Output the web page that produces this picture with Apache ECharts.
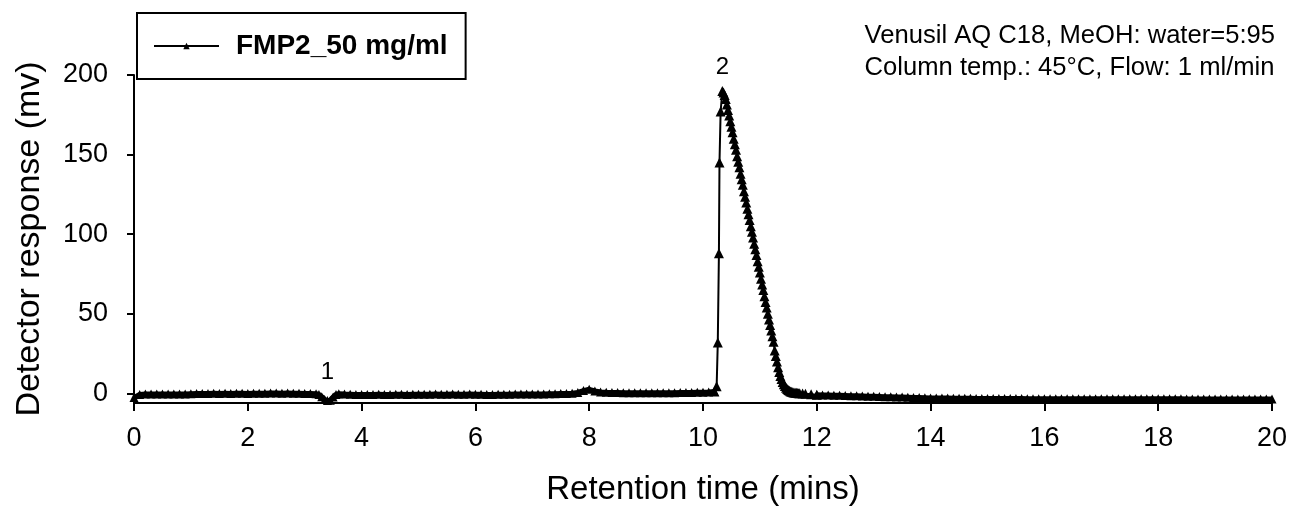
<!DOCTYPE html>
<html>
<head>
<meta charset="utf-8">
<script src="https://cdn.jsdelivr.net/npm/echarts@6/dist/echarts.min.js"></script>
<style>
html,body{margin:0;padding:0;background:#fff;}
#chart{width:1290px;height:513px;}
</style>
</head>
<body>
<div id="chart"></div>
<script>
// ---- data (time in mins, response in mV) ----
const seriesName = 'FMP2_50 mg/ml';
const xTicks = [0, 2, 4, 6, 8, 10, 12, 14, 16, 18, 20];
const yTicks = [0, 50, 100, 150, 200];

const baselineEarly = [
  [0.0,-2.5],[0.1,-0.6],[0.2,-0.4],[0.3,-0.3],[0.4,-0.3],[0.5,-0.4],[0.6,-0.3],[0.7,-0.3],[0.8,-0.4],[0.9,-0.3],
  [1.0,-0.2],[1.1,-0.1],[1.2,0.0],[1.3,0.0],[1.4,0.1],[1.5,0.0],[1.6,0.1],[1.7,0.0],[1.8,0.1],[1.9,0.1],
  [2.0,0.0],[2.1,0.1],[2.2,0.2],[2.3,0.2],[2.4,0.3],[2.5,0.3],[2.6,0.2],[2.7,0.3],[2.8,0.2],[2.9,0.1],
  [3.0,0.0],[3.1,-0.1],[3.2,-0.2]
];
const peak1 = [
  [3.25,-0.6],[3.3,-2.0],[3.35,-3.8],[3.4,-4.5],[3.45,-4.2],[3.5,-2.2],[3.55,-0.6],[3.6,-0.2]
];
const baselineMid = [
  [3.7,-0.4],[3.8,-0.5],[3.9,-0.6],[4.0,-0.6],[4.1,-0.6],[4.2,-0.6],[4.3,-0.5],[4.4,-0.6],[4.5,-0.6],[4.6,-0.5],
  [4.7,-0.5],[4.8,-0.6],[4.9,-0.5],[5.0,-0.5],[5.1,-0.5],[5.2,-0.5],[5.3,-0.4],[5.4,-0.5],[5.5,-0.5],[5.6,-0.4],
  [5.7,-0.5],[5.8,-0.5],[5.9,-0.4],[6.0,-0.5],[6.1,-0.5],[6.2,-0.6],[6.3,-0.6],[6.4,-0.5],[6.5,-0.5],[6.6,-0.5],
  [6.7,-0.4],[6.8,-0.4],[6.9,-0.4],[7.0,-0.3],[7.1,-0.3],[7.2,-0.3],[7.3,-0.2],[7.4,-0.2],[7.5,-0.1],[7.6,0.0],
  [7.7,0.2],[7.8,0.6],[7.9,1.8],[8.0,2.6],[8.1,1.6],[8.2,0.9],[8.3,0.7],[8.4,0.6],[8.5,0.6],[8.6,0.5],
  [8.7,0.5],[8.8,0.4],[8.9,0.4],[9.0,0.4],[9.1,0.4],[9.2,0.5],[9.3,0.5],[9.4,0.5],[9.5,0.5],[9.6,0.6],
  [9.7,0.6],[9.8,0.6],[9.9,0.7],[10.0,0.8],[10.1,0.9],[10.2,1.2]
];
const peak2 = [
  [10.24,4.5],[10.26,32],[10.28,88],[10.29,145],[10.31,177],[10.34,190],
  [10.36,189],[10.38,187.5],[10.40,185],[10.42,181.5],[10.44,178],[10.46,174.5],[10.48,171],[10.50,167.5],
  [10.52,164],[10.54,160],[10.56,156.5],[10.58,153],[10.60,149],[10.62,145.5],[10.64,142],[10.66,138],
  [10.68,134.5],[10.70,131],[10.72,127],[10.74,123.5],[10.76,120],[10.78,116],[10.80,112.5],[10.82,109],
  [10.84,105],[10.86,101.5],[10.88,98],[10.90,94],[10.92,90.5],[10.94,87],[10.96,83],[10.98,79.5],
  [11.00,76],[11.02,72],[11.04,68.5],[11.06,65],[11.08,61],[11.10,57.5],[11.12,54],[11.14,50],
  [11.16,46.5],[11.18,43],[11.20,39.5],[11.22,36],[11.24,32.5],[11.26,27],[11.28,23.5],[11.30,20],
  [11.32,16.5],[11.34,13.5],[11.36,11],[11.38,9],[11.40,7.2],[11.42,5.8],[11.44,4.6],[11.46,3.6],
  [11.48,2.8],[11.50,2.2],[11.52,1.7],[11.54,1.3],[11.56,1.0],[11.58,0.8],[11.60,0.6],[11.62,0.5],
  [11.64,0.4],[11.66,0.3],[11.68,0.2],[11.70,0.1],[11.75,0.0],[11.80,-0.2],[11.90,-0.5]
];
const baselineLate = [
  [12.0,-0.8],[12.1,-0.9],[12.2,-1.0],[12.3,-1.1],[12.4,-1.2],[12.5,-1.3],[12.6,-1.4],[12.7,-1.5],[12.8,-1.6],[12.9,-1.7],
  [13.0,-1.8],[13.1,-1.9],[13.2,-2.0],[13.3,-2.1],[13.4,-2.2],[13.5,-2.3],[13.6,-2.4],[13.7,-2.5],[13.8,-2.6],[13.9,-2.7],
  [14.0,-2.8],[14.1,-2.8],[14.2,-2.9],[14.3,-2.9],[14.4,-3.0],[14.5,-3.0],[14.6,-3.0],[14.7,-3.0],[14.8,-3.1],[14.9,-3.1],
  [15.0,-3.1],[15.1,-3.1],[15.2,-3.2],[15.3,-3.2],[15.4,-3.2],[15.5,-3.2],[15.6,-3.2],[15.7,-3.3],[15.8,-3.3],[15.9,-3.3],
  [16.0,-3.3],[16.1,-3.3],[16.2,-3.3],[16.3,-3.3],[16.4,-3.3],[16.5,-3.3],[16.6,-3.3],[16.7,-3.3],[16.8,-3.3],[16.9,-3.4],
  [17.0,-3.4],[17.1,-3.4],[17.2,-3.4],[17.3,-3.4],[17.4,-3.4],[17.5,-3.4],[17.6,-3.4],[17.7,-3.4],[17.8,-3.4],[17.9,-3.4],
  [18.0,-3.4],[18.1,-3.4],[18.2,-3.4],[18.3,-3.4],[18.4,-3.4],[18.5,-3.5],[18.6,-3.5],[18.7,-3.5],[18.8,-3.5],[18.9,-3.5],
  [19.0,-3.5],[19.1,-3.5],[19.2,-3.5],[19.3,-3.5],[19.4,-3.5],[19.5,-3.5],[19.6,-3.5],[19.7,-3.5],[19.8,-3.5],[19.9,-3.5],
  [20.0,-3.5]
];
const peakLabels = [
  { text: '1', at: [3.4, 13.5] },
  { text: '2', at: [10.34, 205] }
];
const noteLines = ['Venusil AQ C18, MeOH: water=5:95', 'Column temp.: 45°C, Flow: 1 ml/min'];

// ---- chart ----
const FONT = '"Liberation Sans", Arial, sans-serif';
// one trace drawn in three contiguous pieces (shared end points), one legend entry
const pieceBefore = [].concat(baselineEarly, peak1, baselineMid);
const piecePeak = [pieceBefore[pieceBefore.length - 1]].concat(peak2, [baselineLate[0]]);
const pieceAfter = baselineLate;

function trace(data, lineWidth, symbolSize) {
  return {
    name: seriesName,
    type: 'line',
    data: data,
    symbol: 'triangle',
    symbolSize: symbolSize,
    showAllSymbol: true,
    sampling: null,
    clip: false,
    lineStyle: { color: '#000', width: lineWidth },
    itemStyle: { color: '#000', borderWidth: 0 },
    emphasis: { disabled: true }
  };
}

const chart = echarts.init(document.getElementById('chart'), null, { renderer: 'canvas' });

const option = {
  animation: false,
  backgroundColor: '#fff',
  grid: { left: 134, right: 18, top: 75, bottom: 110, containLabel: false },
  legend: {
    left: 137, top: 13,
    padding: [19, 18, 19, 16],
    borderColor: '#000', borderWidth: 2, borderRadius: 0,
    itemWidth: 65, itemHeight: 8, itemGap: 0,
    lineStyle: { width: 2, color: '#000' },
    itemStyle: { color: '#000' },
    textStyle: { fontFamily: FONT, fontSize: 28, fontWeight: 'bold', color: '#000', padding: [0, 0, 0, 12] },
    data: [seriesName]
  },
  xAxis: {
    type: 'value', min: 0, max: 20, interval: 2,
    name: 'Retention time (mins)', nameLocation: 'middle', nameGap: 70,
    nameTextStyle: { fontFamily: FONT, fontSize: 33, color: '#000' },
    axisLine: { show: true, onZero: false, lineStyle: { color: '#000', width: 2 } },
    axisTick: { show: true, inside: false, length: 8, lineStyle: { color: '#000', width: 2 } },
    axisLabel: { fontFamily: FONT, fontSize: 27, color: '#000', margin: 22 },
    splitLine: { show: false }
  },
  yAxis: {
    type: 'value', min: -6, max: 200,
    name: 'Detector response (mv)', nameLocation: 'middle', nameGap: 87,
    nameTextStyle: { fontFamily: FONT, fontSize: 34, color: '#000' },
    axisLine: { show: true, onZero: false, lineStyle: { color: '#000', width: 2 } },
    axisTick: { show: true, inside: false, length: 7, customValues: yTicks, lineStyle: { color: '#000', width: 2 } },
    axisLabel: { fontFamily: FONT, fontSize: 27, color: '#000', margin: 26, customValues: yTicks },
    splitLine: { show: false }
  },
  series: [
    trace(pieceBefore, 5, 9),
    trace(piecePeak, 2, 10),
    trace(pieceAfter, 5, 9)
  ]
};
chart.setOption(option);

// peak number labels and method note, placed through the axes
const graphics = peakLabels.map(p => {
  const px = chart.convertToPixel({ gridIndex: 0 }, p.at);
  return {
    type: 'text', x: px[0], y: px[1],
    style: { text: p.text, fontFamily: FONT, fontSize: 24, fill: '#000', align: 'center', verticalAlign: 'middle' }
  };
});
graphics.push({
  type: 'text', right: 15, top: 20,
  style: { text: noteLines.join('\n'), fontFamily: FONT, fontSize: 25.6, lineHeight: 32, fill: '#000', align: 'right' }
});
chart.setOption({ graphic: graphics });
</script>
</body>
</html>
